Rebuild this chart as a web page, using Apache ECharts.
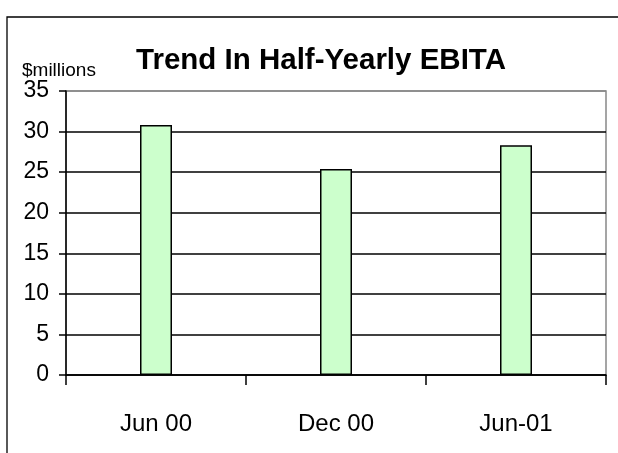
<!DOCTYPE html>
<html>
<head>
<meta charset="utf-8">
<script src="https://cdn.jsdelivr.net/npm/echarts@6/dist/echarts.min.js"></script>
<style>
html,body{margin:0;padding:0;background:#fff;}
#c{width:618px;height:453px;}
</style>
</head>
<body>
<div id="c"></div>
<script>
var categories = ['Jun 00', 'Dec 00', 'Jun-01'];
var ebita = [30.8, 25.4, 28.3];
var yTicks = [0, 5, 10, 15, 20, 25, 30, 35];
var titleText = 'Trend In Half-Yearly EBITA';
var unitText = '$millions';

var chart = echarts.init(document.getElementById('c'), null, {renderer: 'canvas'});
chart.setOption({
  animation: false,
  backgroundColor: '#ffffff',
  title: {
    text: titleText,
    left: 321, textAlign: 'center',
    top: 46,
    padding: 0,
    textStyle: {fontFamily: 'Liberation Sans', fontWeight: 'bold', fontSize: 29.5, color: '#000'}
  },
  graphic: [
    {type: 'polyline', z: -1, shape: {points: [[7, 470], [7, 17], [640, 17]]}, style: {fill: null, stroke: '#000', lineWidth: 1.3}},
    {type: 'text', left: 22, top: 61, style: {text: unitText, font: '19px "Liberation Sans"', fill: '#000'}}
  ],
  grid: {left: 66, top: 91, right: 12, bottom: 78, show: true, borderColor: '#888', borderWidth: 1.5, backgroundColor: 'transparent'},
  xAxis: {
    type: 'category',
    data: categories,
    axisLine: {lineStyle: {color: '#000', width: 1.5}},
    axisTick: {show: true, length: 10, lineStyle: {color: '#000', width: 1.5}},
    axisLabel: {margin: 37, color: '#000', fontSize: 24, fontFamily: 'Liberation Sans'}
  },
  yAxis: {
    type: 'value',
    min: yTicks[0], max: yTicks[yTicks.length - 1], interval: 5,
    axisLine: {show: true, lineStyle: {color: '#000', width: 1.5}},
    axisTick: {show: true, length: 7, lineStyle: {color: '#000', width: 1.5}},
    axisLabel: {margin: 17, color: '#000', fontSize: 23, fontFamily: 'Liberation Sans'},
    splitLine: {show: true, lineStyle: {color: ['#000','#000','#000','#000','#000','#000','#000','#888'], width: 1.5}}
  },
  series: [{
    type: 'bar',
    data: ebita,
    barWidth: 32,
    itemStyle: {color: '#CCFFCC', borderColor: '#000', borderWidth: 1.5}
  }]
});
</script>
</body>
</html>
